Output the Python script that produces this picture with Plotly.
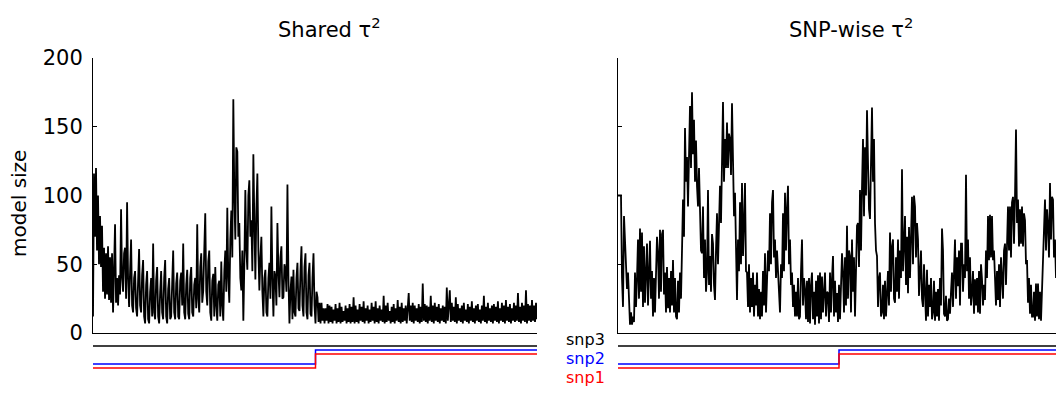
import plotly.graph_objects as go

# ---------------- data ----------------
panel_titles = ["Shared τ<sup>2</sup>", "SNP-wise τ<sup>2</sup>"]
y_label = "model size"
y_ticks = [0, 50, 100, 150, 200]
snp_names = ["snp3", "snp2", "snp1"]

# model size trace, shared tau^2 (one value per sample)
shared_tau = [
    12,116,70,120,60,100,50,85,48,78,30,62,25,58,28,63,24,55,22,58,
    15,50,79,22,40,20,42,28,90,40,30,58,62,25,95,40,19,45,68,20,
    15,40,45,18,12,38,61,20,15,42,53,12,7,35,45,10,7,30,40,12,
    65,15,10,38,48,12,7,30,45,15,10,40,53,12,7,32,40,10,12,36,
    60,15,10,36,44,12,10,38,44,20,65,15,10,35,46,14,10,40,48,15,
    12,35,40,18,79,25,15,48,58,22,31,60,87,30,20,52,60,15,9,38,
    43,12,48,20,9,35,38,12,52,20,9,45,60,30,91,40,22,68,89,55,
    170,100,68,135,132,70,80,40,31,60,9,50,104,60,46,100,111,70,82,45,
    130,80,39,90,116,60,31,55,70,30,12,40,46,15,12,40,51,25,92,40,
    12,45,41,20,80,45,26,55,63,25,26,50,46,30,108,40,7,30,41,10,
    46,15,12,40,51,18,16,45,63,20,12,48,58,15,10,42,51,14,12,40,
    58,20,7,30,26,8,22,7,22,9,18,7,18,9,21,7,20,8,19,7,
    17,9,21,7,18,8,22,7,19,8,16,9,20,7,18,8,21,7,19,8,
    26,7,20,8,17,7,21,9,19,8,23,7,18,9,20,7,17,8,22,9,
    19,7,23,8,18,7,20,9,17,8,27,7,20,8,22,9,16,7,19,8,
    21,7,18,9,24,8,19,7,22,8,18,9,20,7,23,29,9,20,8,22,
    7,20,9,18,8,21,7,19,8,36,9,21,8,20,7,19,9,27,8,20,
    7,22,9,19,8,21,7,18,9,20,8,19,7,33,9,20,31,8,22,9,
    19,8,26,7,21,9,18,8,20,7,22,9,17,8,21,7,19,9,23,8,
    18,7,20,9,21,8,17,7,20,9,27,8,19,7,22,9,18,8,20,7,
    21,9,19,8,23,7,18,9,22,8,20,7,24,9,19,8,21,7,18,9,
    22,8,20,9,29,8,19,7,22,9,20,8,31,7,21,9,20,8,24,9,
    20,8,22,10]

# model size trace, SNP-wise tau^2
snpwise_tau = [
    100,100,100,100,40,19,85,68,40,32,44,20,6,15,6,12,8,44,19,40,
    68,25,76,30,73,19,63,22,50,65,20,55,67,25,45,12,40,15,55,70,
    58,25,75,30,72,75,28,44,15,48,18,40,15,45,20,53,15,40,12,10,
    38,15,44,25,60,97,70,149,110,128,92,140,165,120,175,130,155,110,140,107,
    92,120,87,60,58,92,40,68,30,44,104,35,56,30,72,65,35,24,60,87,
    50,90,107,80,130,168,110,141,120,153,120,145,141,115,167,116,85,102,60,24,
    68,45,95,50,109,56,80,109,45,44,19,50,15,40,19,44,12,35,20,44,
    12,32,10,30,12,45,20,58,15,44,60,45,87,50,95,104,55,68,40,60,
    44,30,15,50,40,87,45,102,60,90,107,50,68,35,44,19,35,12,30,12,
    40,10,12,45,68,20,40,32,10,38,8,40,7,35,44,10,30,6,38,12,
    42,7,44,10,41,15,36,44,12,30,29,8,44,15,40,56,12,38,15,29,
    8,35,10,45,58,44,15,55,20,78,25,60,56,15,68,30,55,12,50,78,
    80,48,104,60,106,141,85,135,100,162,124,90,83,130,164,110,141,80,60,56,
    19,40,44,12,15,35,10,38,12,29,45,20,73,30,63,68,25,22,55,30,
    68,25,60,40,119,45,75,85,35,70,29,77,40,80,99,50,100,92,55,80,
    68,27,44,60,25,19,50,30,9,46,12,35,19,40,10,15,38,9,30,12,
    32,9,40,20,76,60,14,12,27,9,10,25,14,30,44,19,50,68,25,55,
    34,60,20,65,65,30,50,40,115,45,68,25,55,20,29,45,14,39,20,40,
    15,45,14,50,39,20,35,24,60,40,85,53,86,55,85,53,60,44,20,45,
    24,50,19,55,44,25,60,65,35,70,92,60,92,55,95,99,65,99,148,80,
    97,63,90,65,92,63,87,82,50,53,22,40,14,35,12,12,30,9,36,12,
    36,10,30,9,32,50,70,97,60,90,78,55,109,68,99,97,55,68,40]

# SNP inclusion indicators (change points: sample index, state)
snp_iter_shared = [0, 222, 443]
snp_iter_snpwise = [0, 221, 438]
snp3_state = [1, 1, 1]
snp2_state = [0, 1, 1]
snp1_state = [0, 1, 1]

# ---------------- layout helpers ----------------
W, H = 1056, 393
def fx(p):
    return p / W
def fy(p):
    return 1 - p / H

FONT = "DejaVu Sans"
snp_colors = {"snp3": "#000000", "snp2": "#0000ff", "snp1": "#ff0000"}
snp_offsets = {"snp3": 0.0, "snp2": -4 / 14, "snp1": -8 / 14}

fig = go.Figure()

traces_data = [shared_tau, snpwise_tau]
snp_iters = [snp_iter_shared, snp_iter_snpwise]
snp_states = {"snp3": snp3_state, "snp2": snp2_state, "snp1": snp1_state}

for k in range(2):
    xa = "x" if k == 0 else "x2"
    ya = "y" if k == 0 else "y2"
    vals = traces_data[k]
    fig.add_trace(go.Scatter(x=list(range(len(vals))), y=vals, mode="lines",
                             line=dict(color="black", width=1.8),
                             xaxis=xa, yaxis=ya, showlegend=False,
                             hoverinfo="skip"))
    xi = "x3" if k == 0 else "x4"
    yi = "y3" if k == 0 else "y4"
    for name in ["snp3", "snp2", "snp1"]:
        st = snp_states[name]
        fig.add_trace(go.Scatter(x=snp_iters[k],
                                 y=[s + snp_offsets[name] for s in st],
                                 mode="lines", line_shape="hv",
                                 line=dict(color=snp_colors[name], width=1.5),
                                 xaxis=xi, yaxis=yi, showlegend=False,
                                 hoverinfo="skip"))

left_dom = [fx(93), fx(537)]
right_dom = [fx(618), 1.0]
main_y_dom = [fy(333), fy(58)]
ind_y_dom = [fy(378), fy(338)]
ind_range = [-18 / 14, 1 + 8 / 14]

common_x = dict(showgrid=False, zeroline=False, showticklabels=False,
                ticks="", showline=True, linecolor="black", linewidth=1,
                automargin=False)
common_y = dict(showgrid=False, zeroline=False, range=[0, 200],
                tickvals=y_ticks, ticks="inside", ticklen=4, tickcolor="black",
                showline=True, linecolor="black", linewidth=1,
                domain=main_y_dom, automargin=False)
hidden = dict(visible=False, showgrid=False, zeroline=False, automargin=False)

fig.update_layout(
    width=W, height=H, autosize=False,
    margin=dict(l=0, r=0, t=0, b=0, pad=0, autoexpand=False),
    paper_bgcolor="white", plot_bgcolor="white",
    font=dict(family=FONT, size=20, color="black"),
    xaxis=dict(common_x, domain=left_dom, range=[0, len(shared_tau) - 1],
               anchor="y"),
    yaxis=dict(common_y, anchor="x", tickfont=dict(size=21),
               ticklabelstandoff=5),
    xaxis2=dict(common_x, domain=right_dom, range=[0, len(snpwise_tau) - 1],
                anchor="y2"),
    yaxis2=dict(common_y, anchor="x2", showticklabels=False),
    xaxis3=dict(hidden, domain=left_dom, range=[0, len(shared_tau) - 1],
                anchor="y3"),
    yaxis3=dict(hidden, domain=ind_y_dom, range=ind_range, anchor="x3"),
    xaxis4=dict(hidden, domain=right_dom, range=[0, len(snpwise_tau) - 1],
                anchor="y4"),
    yaxis4=dict(hidden, domain=ind_y_dom, range=ind_range, anchor="x4"),
)

ann = []
ann.append(dict(text=panel_titles[0], x=fx(329), y=fy(28), xref="paper",
                yref="paper", showarrow=False, xanchor="center",
                yanchor="middle", font=dict(size=21)))
ann.append(dict(text=panel_titles[1], x=fx(851), y=fy(28), xref="paper",
                yref="paper", showarrow=False, xanchor="center",
                yanchor="middle", font=dict(size=21)))
ann.append(dict(text=y_label, x=fx(19), y=fy(204), xref="paper", yref="paper",
                showarrow=False, textangle=-90, xanchor="center",
                yanchor="middle", font=dict(size=20)))
label_y = {"snp3": 339.5, "snp2": 358.5, "snp1": 377.5}
for name in snp_names:
    ann.append(dict(text=name, x=fx(606), y=fy(label_y[name]), xref="paper",
                    yref="paper", showarrow=False, xanchor="right",
                    yanchor="middle", borderpad=0,
                    font=dict(size=16, color=snp_colors[name])))
fig.update_layout(annotations=ann)

fig.write_html("out.html")
